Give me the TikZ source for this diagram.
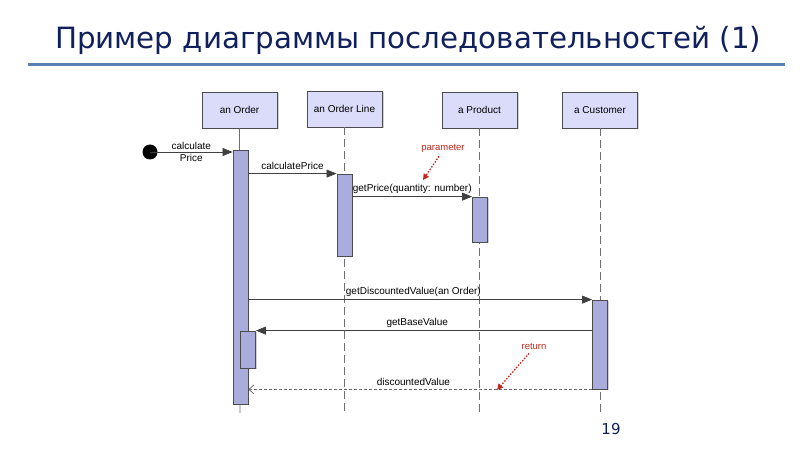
\documentclass[tikz,border=0pt]{standalone}
\usepackage{fontspec}
\setmainfont{DejaVu Sans}
\newfontfamily\umlfont{Liberation Sans}
\usepackage{xcolor}
\usepackage{tikz}
\usetikzlibrary{arrows,arrows.meta,shadows}

\definecolor{titleblue}{RGB}{16,32,92}
\definecolor{ruleblue}{RGB}{92,128,176}
\definecolor{headfill}{RGB}{218,220,250}
\definecolor{actfill}{RGB}{170,172,220}
\definecolor{edgegray}{RGB}{75,75,80}
\definecolor{notered}{RGB}{192,40,30}

\tikzset{
  head/.style={draw=edgegray,fill=headfill,line width=0.8pt,minimum width=75pt,
    minimum height=36pt,inner sep=0pt,font=\umlfont\fontsize{10}{12}\selectfont,
    drop shadow={shadow xshift=1.5pt,shadow yshift=-1.5pt,opacity=0.35}},
  act/.style={draw=edgegray,fill=actfill,line width=0.8pt,minimum width=15pt,inner sep=0pt,
    drop shadow={shadow xshift=1.2pt,shadow yshift=-1.2pt,opacity=0.35}},
  lifeline/.style={draw=edgegray!80,line width=0.8pt,dash pattern=on 8pt off 4pt},
  msg/.style={draw=black!75,line width=0.7pt,->},
  reply/.style={draw=black!60,line width=0.7pt,dash pattern=on 3pt off 2pt,
    >={Straight Barb[length=5pt,width=9pt]},->},
  lbl/.style={font=\umlfont\fontsize{10}{11.5}\selectfont,inner sep=2pt},
  note/.style={text=notered,font=\umlfont\fontsize{9.5}{11}\selectfont,inner sep=1pt},
  notearrow/.style={draw=notered,line width=1.3pt,dash pattern=on 1.5pt off 1.5pt,
    >={Triangle[length=6pt,width=6pt]},->}
}

\begin{document}
\begin{tikzpicture}[x=1pt,y=-1pt]
\useasboundingbox (0,0) rectangle (800,449);

% title
\node[anchor=base west,text=titleblue,font=\fontsize{29.3}{34}\selectfont,inner sep=0pt]
  (title) at (55,49) {Пример диаграммы последовательностей (1)};
\coordinate (ruleL) at (28,65);
\coordinate (ruleR) at (785,65);
\draw[ruleblue,line width=3pt] (ruleL) -- (ruleR);

\begin{scope}[>={Triangle[length=10pt,width=8pt]}]
    % object heads
    \node[head] (order)    at (239.5,110) {an Order};
    \node[head] (line)     at (344.5,109) {an Order Line};
    \node[head] (product)  at (479.5,110) {a Product};
    \node[head] (customer) at (600,110)   {a Customer};

    \coordinate (orderEnd)    at (240,413);
    \coordinate (lineEnd)     at (344.5,413);
    \coordinate (productEnd)  at (479.5,413);
    \coordinate (customerEnd) at (600,413);

    \draw[draw=edgegray!80,line width=0.8pt] (order) -- (orderEnd);
    \draw[lifeline] (line.south) -- (lineEnd);
    \draw[lifeline] (product.south) -- (productEnd);
    \draw[lifeline] (customer.south) -- (customerEnd);

    % activations
    \node[act,minimum height=254pt] (orderAct)    at (240.5,277)   {};
    \node[act,minimum height=82pt]  (lineAct)     at (344.5,215)   {};
    \node[act,minimum height=45pt]  (productAct)  at (480,219.5)   {};
    \node[act,minimum height=89pt]  (customerAct) at (600,344.5)   {};
    \node[act,minimum height=37pt]  (nestAct)     at (248,349.5)   {};

    % messages
    \fill[black] (150,152) circle(7.5) coordinate (start);
    \draw[msg] (start) -- node[lbl,pos=0.5,align=center] (calcLbl) {calculate\\Price} (orderAct.west |- start);
    \draw[msg] (orderAct.east |- lineAct.north) -- node[lbl,above,yshift=2pt] (priceLbl) {calculatePrice} (lineAct.north west);
    \draw[msg] (lineAct.east |- productAct.north) -- node[lbl,above,yshift=1pt] (getPriceLbl) {getPrice(quantity: number)} (productAct.north west);
    \draw[msg] (orderAct.east |- customerAct.north) -- node[lbl,above,pos=0.48,yshift=1pt] (discLbl) {getDiscountedValue(an Order)} (customerAct.north west);
    \draw[msg] (customerAct.west |- nestAct.north) -- node[lbl,above,pos=0.52,yshift=1pt] (baseLbl) {getBaseValue} (nestAct.north east);
    \draw[reply] (customerAct.south west) -- node[lbl,above,pos=0.52,yshift=1pt] (retLbl) {discountedValue} (orderAct.east |- customerAct.south);

    % notes
    \node[note] (paramNote) at (443,148) {parameter};
    \coordinate (paramTip) at (423,180);
    \draw[notearrow] (paramNote.south) ++(-4,3) -- (paramTip);
    \node[note] (returnNote) at (534,346) {return};
    \coordinate (returnTip) at (497,390);
    \draw[notearrow] (returnNote.south) ++(-5,3) -- (returnTip);
\end{scope}

\node[text=titleblue,font=\fontsize{15}{18}\selectfont,inner sep=0pt] (page) at (611,429) {19};
\end{tikzpicture}
\end{document}
